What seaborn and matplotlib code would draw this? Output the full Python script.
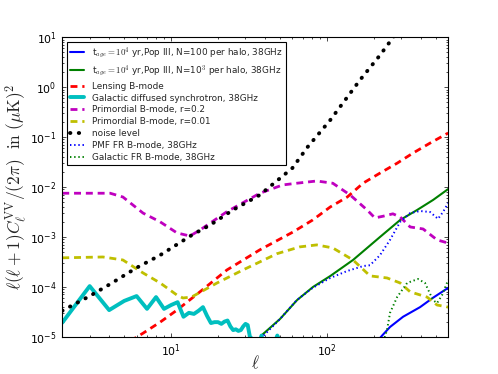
import numpy as np
import pandas as pd
import seaborn as sns
import matplotlib
matplotlib.use("Agg")
import matplotlib.pyplot as plt

# --- data (multipole l, l(l+1)C_l/2pi in uK^2) ---
l_pop_n100 = [210, 226, 254, 308, 396, 479, 600]
v_pop_n100 = [8e-6, 1.05e-5, 1.56e-5, 2.5e-5, 3.9e-5, 6.0e-5, 9.5e-5]

l_pop_n1000 = [36, 38.3, 50, 64.3, 81.4, 105, 147, 219, 295, 379, 480, 600]
v_pop_n1000 = [8e-6, 1.08e-5, 2.26e-5, 5.4e-5, 9.9e-5, 1.64e-4, 3.44e-4,
               9.95e-4, 2.18e-3, 3.46e-3, 5.5e-3, 9.1e-3]

l_lensing = [5.5, 5.86, 6.6, 8.5, 10.9, 15.3, 22.8, 37.1, 60.5, 81, 105,
             135, 171, 219, 282, 357, 459, 600]
v_lensing = [8e-6, 9.3e-6, 1.17e-5, 1.95e-5, 3.4e-5, 7.9e-5, 2.17e-4, 5.5e-4,
             1.25e-3, 2.18e-3, 3.98e-3, 6.3e-3, 0.012, 0.019, 0.030, 0.048,
             0.076, 0.121]

l_sync = [2, 3, 4, 5, 6, 7, 8, 9, 10, 11, 12, 13, 14, 15, 16, 17, 18, 19, 20,
          21, 22, 23, 24, 25, 26, 27, 28, 29, 30, 31, 32, 33, 34, 36, 38, 40,
          44, 48, 52, 56, 60]
v_sync = [1.9e-5, 1.03e-4, 3.4e-5, 5.2e-5, 6.5e-5, 3.6e-5, 6.2e-5, 3.6e-5,
          4.3e-5, 4.9e-5, 2.5e-5, 3.0e-5, 2.85e-5, 3.3e-5, 3.9e-5, 2.6e-5,
          1.87e-5, 1.95e-5, 1.95e-5, 1.8e-5, 2.0e-5, 2.1e-5, 1.6e-5, 1.35e-5,
          1.4e-5, 1.3e-5, 1.35e-5, 1.6e-5, 1.8e-5, 1.7e-5, 1.0e-5, 9e-6, 7e-6,
          6e-6, 1.05e-5, 6e-6, 5e-6, 1.05e-5, 6e-6, 4e-6, 3e-6]

l_prim_02 = [2, 4.06, 4.9, 6.6, 8.5, 10.9, 13.2, 15.3, 22.8, 37.1, 52, 64, 86,
             109, 141, 181, 203, 230, 265, 295, 342, 414, 509, 600]
v_prim_02 = [7.5e-3, 7.5e-3, 6.3e-3, 3.0e-3, 2.0e-3, 1.2e-3, 1.04e-3, 1.37e-3,
             3.2e-3, 7.5e-3, 0.011, 0.0119, 0.0132, 0.0119, 6.9e-3, 3.46e-3,
             2.4e-3, 2.6e-3, 2.9e-3, 2.5e-3, 1.58e-3, 1.44e-3, 8.7e-4, 7.5e-4]

l_prim_001 = [2, 3.65, 4.9, 6.6, 8.5, 10.9, 11.9, 13.5, 19.7, 28.9, 47.8, 67,
              86, 109, 147, 189, 243, 295, 342, 439, 509, 600]
v_prim_001 = [3.8e-4, 3.95e-4, 3.44e-4, 1.89e-4, 1.19e-4, 6.8e-5, 5.95e-5,
              6.2e-5, 1.19e-4, 2.17e-4, 4.6e-4, 6.3e-4, 6.9e-4, 6.0e-4, 3.44e-4,
              1.65e-4, 1.5e-4, 1.19e-4, 7.9e-5, 6.2e-5, 4.3e-5, 3.9e-5]

l_noise = [2, 3, 4, 6, 8.5, 13.6, 17.8, 24.9, 37, 60, 75, 105, 163, 219, 266, 290]
v_noise = [3.3e-5, 6.5e-5, 1.1e-4, 2.4e-4, 4.3e-4, 1.09e-3, 1.73e-3, 3.46e-3,
           6.9e-3, 0.024, 0.063, 0.22, 1.4, 4.4, 10, 16]

l_pmf = [36, 50, 64, 81, 105, 135, 171, 189, 219, 254, 295, 342, 396, 459,
         516, 556, 600]
v_pmf = [8e-6, 2.26e-5, 5.4e-5, 9.5e-5, 1.5e-4, 2.07e-4, 2.6e-4, 2.7e-4,
         4.3e-4, 8.7e-4, 2.0e-3, 3.0e-3, 3.3e-3, 3.15e-3, 2.3e-3, 3.15e-3, 4.8e-3]

l_gal_fr = [230, 243, 254, 282, 327, 384, 426, 479, 509, 548, 600]
v_gal_fr = [8e-6, 1.36e-5, 3.0e-5, 6.2e-5, 1.19e-4, 1.43e-4, 1.19e-4, 5.4e-5,
            4.7e-5, 6.8e-5, 1.37e-4]

sns.set_style("ticks")
plt.rcParams["font.family"] = ["DejaVu Sans"]
plt.rcParams["mathtext.fontset"] = "cm"
plt.rcParams["lines.scale_dashes"] = False
plt.rcParams["axes.linewidth"] = 0.8
plt.rcParams["axes.edgecolor"] = "black"

fig, ax = plt.subplots(figsize=(4.98, 3.74), dpi=100)
fig.subplots_adjust(left=0.125, right=0.9, bottom=0.1, top=0.9)
ax.set_xscale("log")
ax.set_yscale("log")


def draw(l, v, label, color, lw, ls="-", capstyle="butt"):
    df = pd.DataFrame({"l": l, "v": v})
    sns.lineplot(data=df, x="l", y="v", ax=ax, color=color, lw=lw,
                 linestyle=ls, label=label, estimator=None, sort=False)
    ax.lines[-1].set_dash_capstyle(capstyle)


draw(l_pop_n100, v_pop_n100,
     r"t$_{age}=10^4$ yr,Pop III, N=100 per halo, 38GHz", "#0000ff", 1.5)
draw(l_pop_n1000, v_pop_n1000,
     r"t$_{age}=10^4$ yr,Pop III, N=10$^3$ per halo, 38GHz", "#008000", 1.5)
draw(l_lensing, v_lensing, "Lensing B-mode", "#ff0000", 2.0, (0, (5, 3.5)))
draw(l_sync, v_sync, "Galactic diffused synchrotron, 38GHz", "#00bfbf", 2.8)
draw(l_prim_02, v_prim_02, "Primordial B-mode, r=0.2", "#bf00bf", 2.0, (0, (5, 3.5)))
draw(l_prim_001, v_prim_001, "Primordial B-mode, r=0.01", "#bfbf00", 2.0, (0, (5, 3.5)))
draw(l_noise, v_noise, "noise level", "black", 2.8, (0, (0.3, 6)), "round")
draw(l_pmf, v_pmf, "PMF FR B-mode, 38GHz", "#0000ff", 1.4, (0, (1, 2)))
draw(l_gal_fr, v_gal_fr, "Galactic FR B-mode, 38GHz", "#008000", 1.4, (0, (1, 2)))

ax.set_xlim(2, 600)
ax.set_ylim(1e-5, 10)
ax.tick_params(which="both", direction="in", top=True, right=True,
               labelsize=7.8, width=0.5, colors="black", pad=4)
ax.tick_params(which="major", length=3)
ax.tick_params(which="minor", length=1.5)

ax.set_xlabel(r"$\ell$", fontsize=12, labelpad=-3)
ax.set_ylabel(r"$\ell(\ell+1)C_\ell^{\rm VV}/(2\pi)\ \ {\rm in}\ (\mu{\rm K})^2$",
              fontsize=12.5, labelpad=1)

leg = ax.legend(loc="upper left", fontsize=6.4, handlelength=1.6,
                handletextpad=0.8, labelspacing=0.32, borderpad=0.4,
                fancybox=False, framealpha=1, edgecolor="black",
                borderaxespad=0.5)
leg.get_frame().set_linewidth(0.8)

fig.savefig("out.png", dpi=100)
